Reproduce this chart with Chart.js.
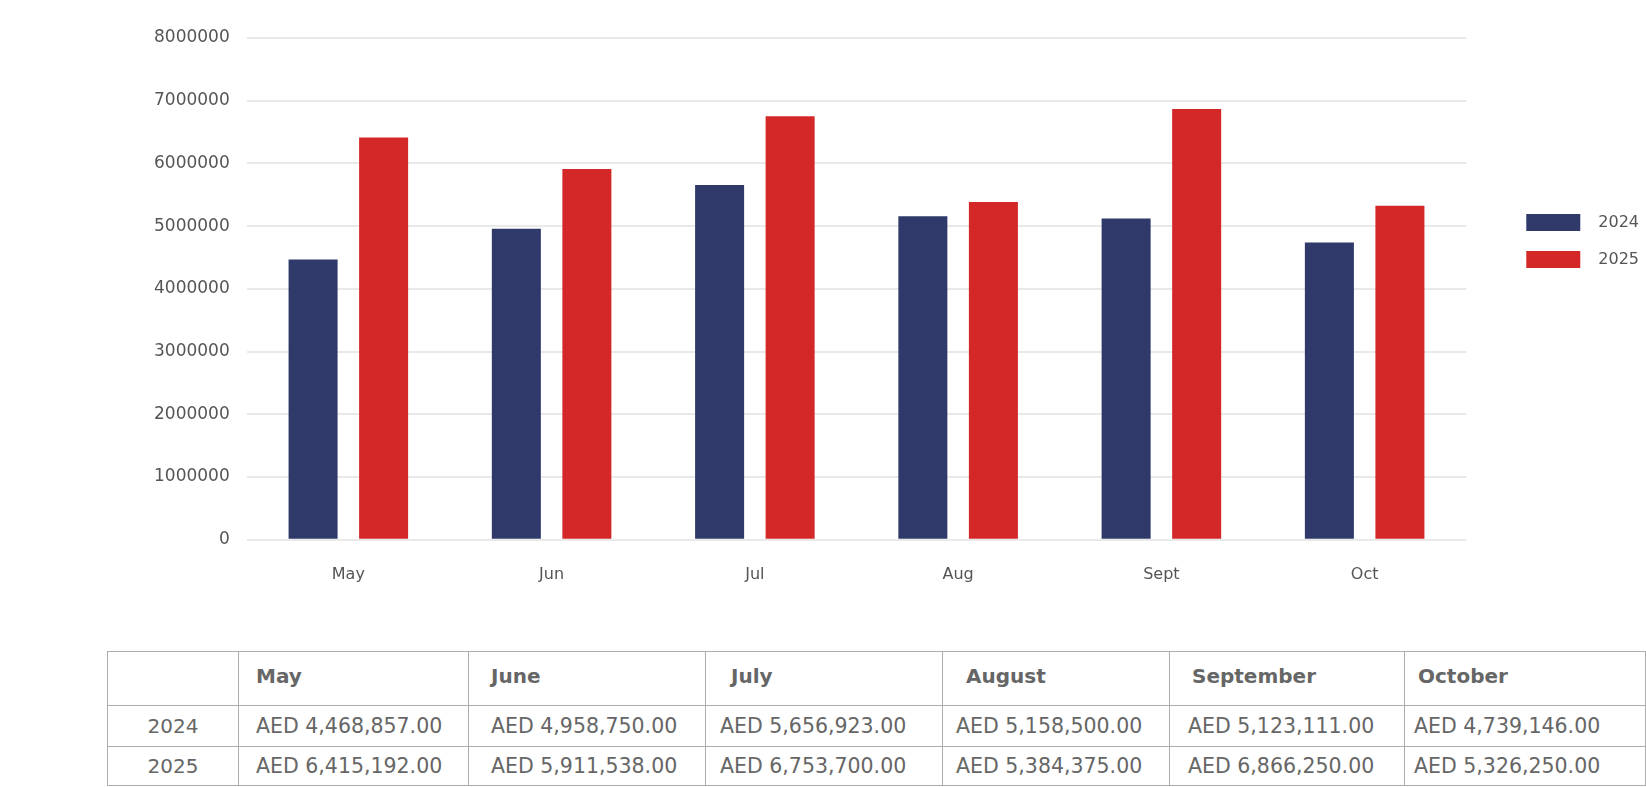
<!DOCTYPE html>
<html>
<head>
<meta charset="utf-8">
<script src="https://cdn.jsdelivr.net/npm/chart.js@4.4.0/dist/chart.umd.min.js"></script>
<style>
  html, body { margin: 0; padding: 0; background: #fff; }
  body { width: 1646px; height: 787px; position: relative; overflow: hidden; font-family: "DejaVu Sans", sans-serif; }
  #chartBox { position: absolute; left: 0; top: 0; width: 1646px; height: 626px; }
  #dataTable { position: absolute; left: 107px; top: 651px; border-collapse: collapse; table-layout: fixed; width: 1538px; color: #666; font-size: 20.5px; }
  #dataTable td, #dataTable th { border: 1px solid #adadad; padding: 0; white-space: nowrap; vertical-align: middle; text-align: left; }
  #dataTable th { font-weight: bold; height: 48px; padding-bottom: 5px !important; font-size: 20px; }
  #dataTable tr.r1 td { height: 40px; }
  #dataTable tr.r2 td { height: 38px; }
  #dataTable td.year { text-align: center; font-size: 20px; }
</style>
</head>
<body>
<div id="chartBox"><canvas id="c"></canvas></div>
<table id="dataTable"></table>
<script>
// ---- data ----
const categories = ['May', 'Jun', 'Jul', 'Aug', 'Sept', 'Oct'];
const tableMonths = ['May', 'June', 'July', 'August', 'September', 'October'];
const seriesNames = ['2024', '2025'];
const values2024 = [4468857, 4958750, 5656923, 5158500, 5123111, 4739146];
const values2025 = [6415192, 5911538, 6753700, 5384375, 6866250, 5326250];
const yMax = 8000000;
const yStep = 1000000;

// ---- table ----
const colWidths = [131, 230, 237, 237, 227, 235, 241];
const headPad = [0, 17, 22, 25, 23, 22, 13];
const valPad = [0, 17, 22, 14, 13, 18, 9];
const fmt = v => 'AED ' + v.toLocaleString('en-US', { minimumFractionDigits: 2, maximumFractionDigits: 2 });
const table = document.getElementById('dataTable');
let html = '<colgroup>' + colWidths.map(w => `<col style="width:${w}px">`).join('') + '</colgroup>';
html += '<tr><th></th>' + tableMonths.map((m, i) => `<th style="padding-left:${headPad[i + 1]}px">${m}</th>`).join('') + '</tr>';
[values2024, values2025].forEach((vals, r) => {
  html += `<tr class="r${r + 1}"><td class="year">${seriesNames[r]}</td>` +
    vals.map((v, i) => `<td style="padding-left:${valPad[i + 1]}px">${fmt(v)}</td>`).join('') + '</tr>';
});
table.innerHTML = html;

// ---- chart ----
Chart.defaults.font.family = '"DejaVu Sans", sans-serif';
Chart.defaults.font.size = 16;
Chart.defaults.color = '#555';

new Chart(document.getElementById('c'), {
  type: 'bar',
  data: {
    labels: categories,
    datasets: [
      { label: seriesNames[0], data: values2024, backgroundColor: '#2f3a6b', categoryPercentage: 0.694, barPercentage: 0.695 },
      { label: seriesNames[1], data: values2025, backgroundColor: '#d42828', categoryPercentage: 0.694, barPercentage: 0.695 }
    ]
  },
  options: {
    responsive: true,
    maintainAspectRatio: false,
    animation: false,
    layout: { padding: { left: 137, top: 38, right: 7, bottom: 17 } },
    plugins: {
      tooltip: { enabled: false },
      legend: {
        position: 'right',
        align: 'start',
        title: { display: true, text: '', font: { size: 10 }, padding: { top: 0, bottom: 144 } },
        labels: { boxWidth: 54, boxHeight: 17, padding: 20, textAlign: 'right', color: '#555', font: { size: 16 } }
      }
    },
    scales: {
      x: {
        grid: { display: false, drawTicks: false },
        border: { display: false },
        ticks: { padding: 25, color: '#555' }
      },
      y: {
        min: 0,
        max: yMax,
        ticks: { stepSize: yStep, padding: 17, color: '#555', font: { size: 17 }, callback: v => String(v) },
        grid: { color: '#e9e9e9', lineWidth: 2, drawTicks: false },
        border: { display: false }
      },
      yPad: {
        position: 'right',
        display: true,
        grid: { display: false, drawTicks: false },
        ticks: { display: false },
        border: { display: false },
        afterFit: s => { s.width = 40; }
      }
    }
  }
});
</script>
</body>
</html>
